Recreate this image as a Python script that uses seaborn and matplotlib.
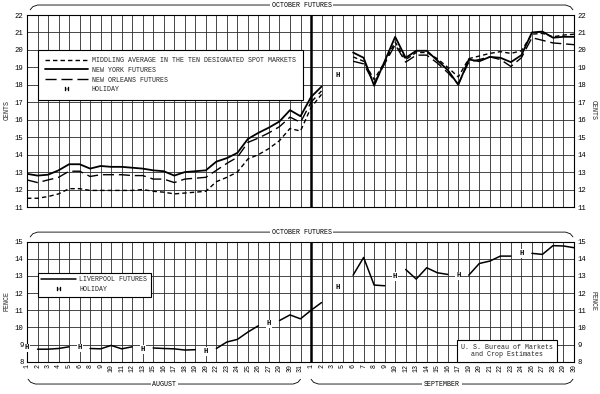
import numpy as np
import pandas as pd
import matplotlib
matplotlib.use("Agg")
import matplotlib.pyplot as plt
import matplotlib.transforms as mtransforms
from matplotlib.lines import Line2D
import seaborn as sns

sns.set_theme(style="white")
plt.rcParams["font.family"] = ["Liberation Mono", "DejaVu Sans Mono"]

# ---------------- data ----------------
aug_days = [1, 2, 3, 4, 5, 6, 8, 9, 10, 11, 12, 13, 15, 16, 17, 18, 19, 20,
            22, 23, 24, 25, 26, 27, 29, 30, 31]
sep_days = [1, 2, 3, 5, 6, 7, 8, 9, 10, 12, 13, 14, 15, 16, 17, 19, 20, 21,
            22, 23, 24, 26, 27, 28, 29, 30]
day_labels = [str(d) for d in aug_days + sep_days]

nan = np.nan
middling = [11.5, 11.5, 11.6, 11.75, 12.05, 12.05, 11.95, 11.95, 11.95, 11.95,
            11.95, 12.0, 11.9, 11.85, 11.75, 11.8, 11.85, 11.9, 12.45, 12.7,
            13.0, 13.75, 14.0, 14.35, 14.8, 15.5, 15.35,
            16.7, 17.45, nan, nan, 19.6, 19.35, 18.3, 19.3, 20.45, 19.45,
            19.85, 19.85, 19.5, 19.0, 18.45, 19.5, 19.65, 19.8, 19.9, 19.8,
            19.95, 20.9, 20.95, 20.75, 20.85, 20.9]
new_york = [12.9, 12.8, 12.85, 13.1, 13.45, 13.45, 13.2, 13.35, 13.3, 13.3,
            13.25, 13.2, 13.1, 13.05, 12.8, 13.0, 13.05, 13.1, 13.6, 13.8,
            14.1, 14.9, 15.25, 15.55, 15.9, 16.55, 16.2,
            17.3, 17.9, nan, nan, 19.85, 19.55, 17.95, 19.35, 20.75, 19.55,
            19.95, 19.95, 19.4, 18.85, 18.0, 19.45, 19.35, 19.6, 19.55, 19.3,
            19.7, 21.0, 21.05, 20.7, 20.75, 20.75]
new_orleans = [12.55, 12.4, 12.55, 12.7, 13.05, 13.05, 12.75, 12.85, 12.85,
               12.85, 12.8, 12.8, 12.6, 12.6, 12.4, 12.6, 12.65, 12.7, 13.1,
               13.5, 13.85, 14.7, 14.95, 15.25, 15.6, 16.15, 15.85,
               17.0, 17.65, nan, nan, 19.35, 19.2, 18.1, 19.2, 20.3, 19.3,
               19.7, 19.7, 19.25, 18.7, 18.05, 19.3, 19.45, 19.6, 19.45, 19.05,
               19.55, 20.7, 20.55, 20.4, 20.35, 20.3]
liverpool = [nan, 8.73, 8.73, 8.77, 8.87, nan, 8.77, 8.75, 8.95, 8.75, 8.87,
             nan, 8.8, 8.77, 8.75, 8.68, 8.7, nan, 8.77, 9.15, 9.3, 9.73, 10.1,
             nan, 10.4, 10.73, 10.5,
             11.0, 11.45, nan, nan, 13.05, 14.08, 12.47, 12.43, nan, 13.38,
             12.82, 13.48, 13.19, 13.09, nan, 13.05, 13.73, 13.87, 14.16, 14.16,
             nan, 14.32, 14.26, 14.77, 14.75, 14.65]

top_holiday_x = [29.5]
top_holiday_y = [18.55]
bot_holiday_x = [0, 5, 11, 17, 23, 29.5, 35, 41, 47]
bot_holiday_y = [8.8, 8.8, 8.7, 8.6, 10.2, 12.3, 12.95, 13.0, 14.3]

top_legend_labels = ["MIDDLING AVERAGE IN THE TEN DESIGNATED SPOT MARKETS",
                     "NEW YORK FUTURES", "NEW ORLEANS FUTURES", "HOLIDAY"]
bot_legend_labels = ["LIVERPOOL FUTURES", "HOLIDAY"]
source_text = "U. S. Bureau of Markets\nand Crop Estimates"

x = np.arange(len(day_labels))
sep_start = len(aug_days)

FS = 4.8
GRID = "#2a2a2a"
SHORT = (0, (3.2, 2.2))
LONG = (0, (8, 3.5))
H_MARK = r"$\mathrm{H}$"

fig = plt.figure(figsize=(6, 3.94), dpi=100)
ax1 = fig.add_axes([27 / 600, 1 - 207 / 394, 547 / 600, 192 / 394])
ax2 = fig.add_axes([27 / 600, 1 - 361.7 / 394, 547 / 600, 120 / 394])


def draw_series(ax, values, **kw):
    df = pd.DataFrame({"x": x, "y": values})
    df["seg"] = df["y"].isna().cumsum()
    df = df.dropna()
    for _, g in df.groupby("seg"):
        if len(g) < 2:
            continue
        sns.lineplot(data=g, x="x", y="y", ax=ax, color="black",
                     legend=False, estimator=None, sort=False, **kw)


def setup(ax, ylo, yhi):
    ax.set_xlim(0, x[-1])
    ax.set_ylim(ylo, yhi)
    ax.set_xticks(x)
    ax.set_yticks(np.arange(ylo, yhi + 1))
    ax.grid(True, color=GRID, lw=0.6)
    ax.set_axisbelow(True)
    ax.axvline(x[sep_start], color="black", lw=1.8, zorder=1.5)
    for s in ax.spines.values():
        s.set_color("black")
        s.set_linewidth(0.8)
    ax.tick_params(axis="y", labelsize=5.2, labelright=True, left=False,
                   right=False, length=0, pad=2.5, colors="black")
    ax.set_xlabel("")
    ax.set_ylabel("")


def bracket(ax, x0, x1, y, text, hook):
    tr = mtransforms.blended_transform_factory(ax.transData, ax.transAxes)
    xs = [x0, x0 + 0.25, x0 + 0.7, x1 - 0.7, x1 - 0.25, x1]
    ys = [y + hook, y + hook * 0.35, y, y, y + hook * 0.35, y + hook]
    ax.plot(xs, ys, transform=tr, color="black", lw=0.6, clip_on=False)
    ax.text((x0 + x1) / 2, y, text, transform=tr, ha="center", va="center",
            fontsize=FS, color="black",
            bbox=dict(facecolor="white", edgecolor="none", pad=1.2))


def holiday_marks(ax, hxs, hys):
    for hx, hy in zip(hxs, hys):
        ax.text(hx, hy, "H", ha="center", va="center", fontsize=5.2,
                fontweight="bold", color="black",
                bbox=dict(facecolor="white", edgecolor="none", pad=0.6))


# ---------------- top panel ----------------
draw_series(ax1, middling, lw=1.0, linestyle=SHORT)
draw_series(ax1, new_york, lw=1.3)
draw_series(ax1, new_orleans, lw=1.0, linestyle=LONG)
setup(ax1, 11, 22)
ax1.tick_params(axis="x", labelbottom=False, length=0)
holiday_marks(ax1, top_holiday_x, top_holiday_y)

h_top = [Line2D([], [], color="black", lw=1.0, linestyle=SHORT),
         Line2D([], [], color="black", lw=1.3),
         Line2D([], [], color="black", lw=1.0, linestyle=LONG),
         Line2D([], [], color="black", linestyle="none", marker=H_MARK,
                markersize=3.2, markeredgewidth=0.2)]
leg1 = ax1.legend(h_top, top_legend_labels, loc="upper left",
                  bbox_to_anchor=(0.02, 0.818), fontsize=FS, frameon=True,
                  fancybox=False, edgecolor="black", framealpha=1,
                  handlelength=6.5, handletextpad=0.5, borderpad=1.05,
                  labelspacing=0.42, borderaxespad=0)
leg1.get_frame().set_linewidth(0.8)
bracket(ax1, 0.3, x[-1] - 0.1, 1.052, "OCTOBER FUTURES", -0.025)

# ---------------- bottom panel ----------------
draw_series(ax2, liverpool, lw=1.1)
setup(ax2, 8, 15)
ax2.set_xticklabels(day_labels, rotation=90, fontsize=FS)
ax2.tick_params(axis="x", length=0, pad=2, colors="black")
holiday_marks(ax2, bot_holiday_x, bot_holiday_y)

h_bot = [Line2D([], [], color="black", lw=1.1),
         Line2D([], [], color="black", linestyle="none", marker=H_MARK,
                markersize=3.2, markeredgewidth=0.2)]
leg2 = ax2.legend(h_bot, bot_legend_labels, loc="upper left",
                  bbox_to_anchor=(0.02, 0.739), fontsize=FS, frameon=True,
                  fancybox=False, edgecolor="black", framealpha=1,
                  handlelength=5.2, handletextpad=0.5, borderpad=0.5,
                  labelspacing=0.45, borderaxespad=0)
leg2.get_frame().set_linewidth(0.8)

ax2.text(0.878, 0.09, source_text, transform=ax2.transAxes, ha="center",
         va="center", fontsize=FS, linespacing=1.1,
         bbox=dict(facecolor="white", edgecolor="black", lw=0.8,
                   boxstyle="square,pad=0.6"))

bracket(ax2, 0.3, x[-1] - 0.1, 1.08, "OCTOBER FUTURES", -0.04)
bracket(ax2, 0.1, x[sep_start - 1], -0.186, "AUGUST", 0.04)
bracket(ax2, x[sep_start], x[-1] - 0.1, -0.186, "SEPTEMBER", 0.04)

# axis unit labels
fig.text(7 / 600, 1 - 110 / 394, "CENTS", rotation=90, ha="center",
         va="center", fontsize=FS)
fig.text(593 / 600, 1 - 110 / 394, "CENTS", rotation=270, ha="center",
         va="center", fontsize=FS)
fig.text(7 / 600, 1 - 301 / 394, "PENCE", rotation=90, ha="center",
         va="center", fontsize=FS)
fig.text(593 / 600, 1 - 301 / 394, "PENCE", rotation=270, ha="center",
         va="center", fontsize=FS)

fig.savefig("out.png", dpi=100, facecolor="white")
